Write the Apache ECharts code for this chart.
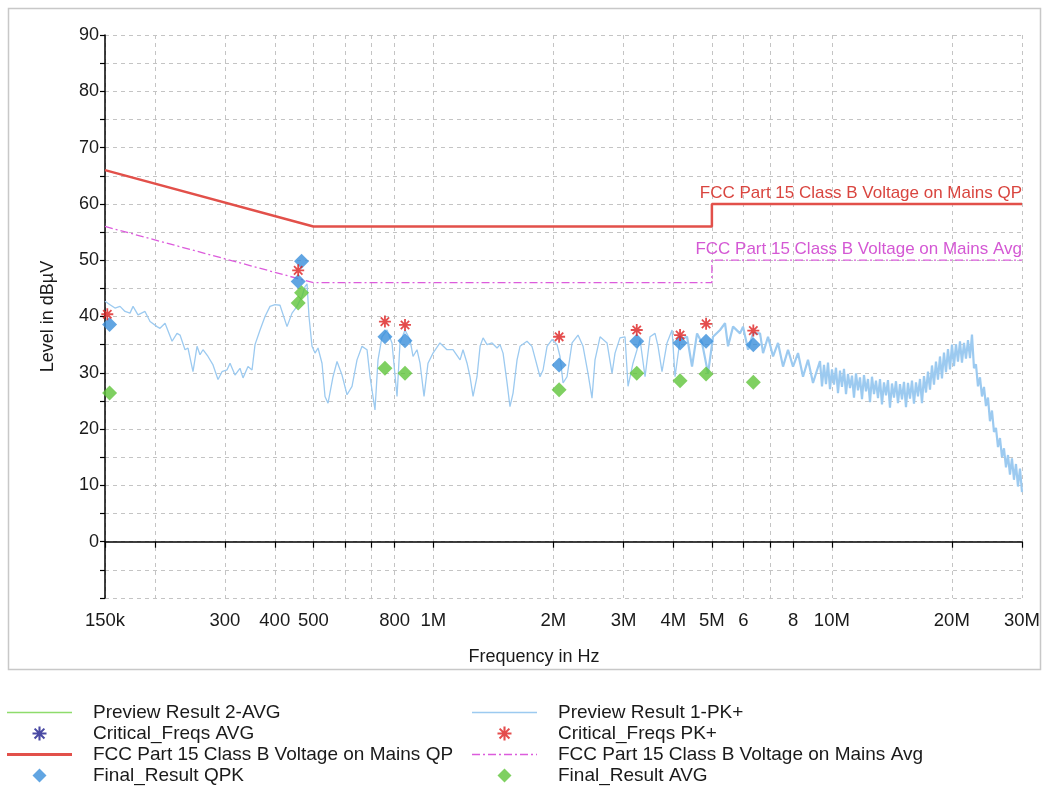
<!DOCTYPE html>
<html><head><meta charset="utf-8">
<script src="https://cdn.jsdelivr.net/npm/echarts@6/dist/echarts.min.js"></script>
<style>html,body{margin:0;padding:0;background:#fff}#c{width:1046px;height:786px}</style>
</head><body><div id="c"></div><script>
// ---- data (frequency in kHz, level in dBµV) ----
const tickFreqsKHz = [150,200,300,400,500,600,700,800,1000,2000,3000,4000,5000,6000,7000,8000,10000,20000,30000];
const labelFreqsKHz = [150,300,400,500,800,1000,2000,3000,4000,5000,6000,8000,10000,20000,30000];
const labelTexts = ['150k','300','400','500','800','1M','2M','3M','4M','5M','6','8','10M','20M','30M'];

const limitQP = [[150,66],[500,56],[5000,56],[5000,60],[30000,60]];
const limitAvg = [[150,56],[500,46],[5000,46],[5000,50],[30000,50]];

// Preview Result 1-PK+, 150 kHz .. 4.16 MHz
const previewPKLow = [
[150,42.7],[154.4,42.1],[158.9,41.5],[163.6,41.8],[168.4,40.9],[173.3,40.6],[176.4,41.8],[181.5,40.3],[189.0,40.9],[194.6,39.1],
[202.6,38.2],[206.1,37.9],[212.2,38.8],[221.0,35.6],[227.4,37.0],[231.4,36.7],[238.2,34.1],[242.3,34.4],[249.4,30.2],[255.3,34.7],
[259.7,33.2],[264.2,34.1],[272.0,32.9],[280.0,31.4],[288.2,28.8],[294.9,30.2],[303.5,30.5],[308.9,31.7],[317.9,29.6],[327.2,30.8],
[333.0,29.1],[342.7,31.1],[350.8,30.5],[356.9,35.0],[367.4,37.6],[378.1,40.0],[389.2,41.8],[400.6,42.1],[412.3,42.0],[429.4,38.2],
[442.0,40.6],[454.9,41.8],[468.3,43.6],[476.4,45.3],[482.0,45.8],[487.5,40.0],[496.1,34.7],[504.8,33.5],[513.6,34.4],[525.6,31.7],
[534.8,25.8],[544.2,24.6],[560.1,29.3],[573.2,32.0],[590.0,29.6],[607.3,26.1],[625.1,27.6],[643.4,32.3],[662.2,34.7],[681.7,34.1],
[693.6,29.3],[713.8,23.4],[726.4,32.3],[743.3,36.4],[765.2,37.6],[787.5,35.3],[810.7,25.8],[824.8,35.3],[848.9,37.6],[873.9,35.9],
[889.2,32.9],[909.9,34.1],[926.0,31.7],[947.6,25.8],[969.6,31.7],[998.1,33.5],[1039,35.3],[1082,34.1],[1120,34.1],[1167,32.3],
[1187,34.1],[1215,31.7],[1236,29.3],[1258,25.8],[1287,29.3],[1310,34.7],[1333,36.2],[1364,35.0],[1404,35.3],[1445,34.4],
[1470,35.0],[1496,33.5],[1531,28.2],[1557,24.0],[1585,26.4],[1622,32.3],[1650,34.7],[1718,35.6],[1768,34.7],[1800,32.6],
[1852,29.3],[1885,30.5],[1929,34.7],[1985,35.9],[2044,35.0],[2079,32.9],[2116,28.2],[2165,29.3],[2229,35.3],[2307,36.7],
[2375,34.7],[2444,29.9],[2501,25.5],[2545,32.3],[2620,36.4],[2728,35.3],[2808,29.9],[2857,33.5],[2940,36.2],[3027,36.4],
[3080,27.6],[3170,31.7],[3301,35.9],[3398,29.3],[3497,36.4],[3600,37.0],[3663,34.7],[3748,30.2],[3858,35.3],[3972,37.6],
[4041,29.3],[4160,35.9]
];
// Preview Result 1-PK+, 4.16 MHz .. 30 MHz (dense, noisy part)
const previewPKHigh = [
[4160,35.9],[4332,36.4],[4458,31.1],[4589,37.0],[4724,35.3],[4890,29.9],[5033,36.4],[5241,37.6],[5394,38.8],
[5489,34.7],[5650,38.2],[5883,37.0],[5986,38.2],[6162,34.1],[6342,37.0],[6604,37.0],[6720,33.5],[6916,36.4],[7119,32.9],
[7327,35.3],[7542,31.1],[7762,34.1],[7990,31.1],[8224,33.5],[8465,29.3],[8712,32.3],[8968,28.2],
[9337,32.1],[9446,27.6],[9555,31.4],[9666,28.0],[9779,31.8],[9892,27.1],[10007,30.6],[10124,27.9],[10241,30.9],[10360,26.4],
[10481,30.4],[10603,27.5],[10726,30.7],[10851,26.2],[10977,29.8],[11105,27.3],[11233,29.5],[11364,25.6],[11496,29.9],[11630,26.9],
[11765,29.2],[11902,25.3],[12040,29.6],[12180,26.7],[12321,28.9],[12465,24.8],[12609,29.3],[12756,26.2],[12904,28.6],[13054,25.5],
[13206,28.9],[13359,24.4],[13514,28.3],[13671,26.0],[13830,28.7],[13991,23.8],[14154,28.1],[14318,25.6],[14485,28.5],[14653,24.6],
[14823,28.0],[14996,25.3],[15170,28.4],[15346,23.9],[15524,28.2],[15705,25.4],[15887,28.6],[16072,24.5],[16259,28.3],[16448,25.8],
[16639,28.9],[16832,24.6],[17028,29.4],[17226,26.5],[17426,30.2],[17629,27.0],[17833,31.3],[18041,27.9],[18250,32.0],[18462,28.8],
[18677,32.9],[18894,29.0],[19114,33.6],[19336,30.1],[19560,34.2],[19788,30.6],[20018,35.0],[20250,31.2],[20486,35.1],[20724,32.0],
[20965,35.6],[21208,31.8],[21455,35.3],[21704,32.5],[21957,35.8],[22212,32.6],[22470,36.8],[22731,30.8],[22995,31.5],[23262,27.6],
[23533,29.2],[23806,25.8],[24083,27.5],[24363,24.1],[24646,25.6],[24932,21.4],[25222,23.3],[25515,19.5],[25812,20.2],[26112,16.8],
[26415,18.4],[26722,15.0],[27033,16.6],[27347,13.2],[27665,15.4],[27986,11.9],[28311,14.8],[28640,11.0],[28973,13.8],[29310,9.8],
[29651,13.0],[30000,8.8]
];

const criticalPK = [[152,40.4],[458,48.2],[756,39.1],[849,38.5],[2068,36.4],[3239,37.6],[4160,36.7],[4835,38.7],[6352,37.5]];
const finalQPK = [[154,38.6],[458,46.2],[467,49.8],[756,36.4],[849,35.7],[2068,31.4],[3239,35.6],[4160,35.3],[4835,35.6],[6352,35.0]];
const finalAVG = [[154,26.4],[458,42.4],[467,44.2],[756,30.8],[849,29.9],[2068,27.0],[3239,29.9],[4160,28.6],[4835,29.8],[6352,28.3]];
const criticalAVG = [];
const previewAVG = [];

const nameQP = 'FCC Part 15 Class B Voltage on Mains QP';
const nameAvg = 'FCC Part 15 Class B Voltage on Mains Avg';
const namePK = 'Preview Result 1-PK+';

// ---- build ----
const toHz = arr => arr.map(p => [p[0] * 1000, p[1]]);
const tickFreqs = tickFreqsKHz.map(v => v * 1000);
const labelFreqs = labelFreqsKHz.map(v => v * 1000);
const ASTERISK = 'path://M8.5,0h3v20h-3z M0,8.5h20v3h-20z M2,4.1l2.1,-2.1l14,14l-2.1,2.1z M15.9,2l2.1,2.1l-14,14l-2.1,-2.1z';
const DIAMOND = 'path://M7,0L14,7L7,14L0,7Z';
const ICON_THIN = 'path://M0,0h65v1.4h-65z';
const ICON_THICK = 'path://M0,0h65v3h-65z';
const ICON_DASHDOT = 'path://M0,0h8v1.5h-8z M11,0h2v1.5h-2z M16,0h8v1.5h-8z M27,0h2v1.5h-2z M32,0h8v1.5h-8z M43,0h2v1.5h-2z M48,0h8v1.5h-8z M59,0h2v1.5h-2z M64,0h1v1.5h-1z';
const FONT = 'Liberation Sans, Arial, sans-serif';
const TRACE = '#9ccaf0';

const chart = echarts.init(document.getElementById('c'), null, {renderer: 'canvas'});
const legendCommon = {
  type: 'plain', orient: 'vertical', top: 703, padding: 0, itemWidth: 65, itemHeight: 14, itemGap: 2,
  selectedMode: false,
  textStyle: {fontSize: 19, color: '#1a1a1a', padding: [0, 0, 0, 16], fontFamily: FONT}
};
chart.setOption({
  animation: false,
  textStyle: {fontFamily: FONT},
  graphic: [{type: 'rect', silent: true, shape: {x: 8.5, y: 8.5, width: 1032, height: 661}, style: {fill: 'none', stroke: '#c8c8c8', lineWidth: 1.5}}],
  grid: {left: 105, right: 24, top: 35, bottom: 188},
  legend: [
    Object.assign({left: 7, data: [
      {name: 'Preview Result 2-AVG', icon: ICON_THIN}, {name: 'Critical_Freqs AVG'},
      {name: nameQP, icon: ICON_THICK}, {name: 'Final_Result QPK'}]}, legendCommon),
    Object.assign({left: 472, data: [
      {name: namePK, icon: ICON_THIN}, {name: 'Critical_Freqs PK+'},
      {name: nameAvg, icon: ICON_DASHDOT}, {name: 'Final_Result AVG'}]}, legendCommon)
  ],
  xAxis: {
    type: 'log', logBase: 10, min: 150000, max: 30000000,
    axisLine: {lineStyle: {color: '#000', width: 1.5}},
    axisTick: {show: true, customValues: tickFreqs, length: 6, lineStyle: {color: '#000', width: 1.2}},
    axisLabel: {customValues: labelFreqs, fontSize: 18.5, color: '#1a1a1a', margin: 13,
      formatter: v => { const i = labelFreqs.findIndex(f => Math.abs(f - v) / f < 1e-6); return i >= 0 ? labelTexts[i] : ''; }},
    splitLine: {show: true, lineStyle: {type: [4, 4], color: '#c4c4c4', width: 1}},
    minorTick: {show: false}, minorSplitLine: {show: false},
    name: 'Frequency in Hz', nameLocation: 'middle', nameGap: 50,
    nameTextStyle: {fontSize: 18, color: '#1a1a1a', padding: [0, 59, 0, 0]}
  },
  yAxis: {
    type: 'value', min: -10, max: 90, interval: 5,
    axisLine: {show: true, lineStyle: {color: '#000', width: 1.5}},
    axisTick: {show: true, length: 5, lineStyle: {color: '#000', width: 1.2}},
    axisLabel: {fontSize: 18, color: '#1a1a1a', margin: 6, formatter: v => (v % 10 === 0 && v > -10) ? String(v) : ''},
    splitLine: {show: true, lineStyle: {type: [4, 4], color: '#c4c4c4', width: 1}},
    name: 'Level in dBµV', nameLocation: 'middle', nameGap: 48,
    nameTextStyle: {fontSize: 18, color: '#1a1a1a'}
  },
  series: [
    {name: 'Preview Result 2-AVG', type: 'line', data: toHz(previewAVG), symbol: 'none', color: '#8edc6c', lineStyle: {width: 1.2, color: '#8edc6c'}},
    {name: namePK, type: 'line', data: toHz(previewPKLow), symbol: 'none', sampling: null, color: TRACE, lineStyle: {width: 1.3, color: TRACE}, z: 2},
    {name: namePK, type: 'line', data: toHz(previewPKHigh), symbol: 'none', sampling: null, color: TRACE, lineStyle: {width: 2.2, color: TRACE}, z: 2},
    {name: 'Critical_Freqs AVG', type: 'scatter', data: toHz(criticalAVG), symbol: ASTERISK, symbolSize: 12, color: '#1c1c8c'},
    {name: nameQP, type: 'line', data: toHz(limitQP), symbol: 'none', color: '#e2504a', lineStyle: {width: 2.5, color: '#e2504a'}, z: 3,
      markPoint: {silent: true, symbol: 'circle', symbolSize: 1, itemStyle: {color: 'rgba(0,0,0,0)'},
        data: [{coord: [30000000, 60], label: {show: true, position: 'top', align: 'right', distance: 2, formatter: nameQP, color: '#d9453f', fontSize: 17}}]}},
    {name: nameAvg, type: 'line', data: toHz(limitAvg), symbol: 'none', color: '#dc5cdc', lineStyle: {width: 1.3, color: '#dc5cdc', type: [8, 3, 2, 3]}, z: 3,
      markPoint: {silent: true, symbol: 'circle', symbolSize: 1, itemStyle: {color: 'rgba(0,0,0,0)'},
        data: [{coord: [30000000, 50], label: {show: true, position: 'top', align: 'right', distance: 2, formatter: nameAvg, color: '#d458d4', fontSize: 17}}]}},
    {name: 'Critical_Freqs PK+', type: 'scatter', data: toHz(criticalPK), symbol: ASTERISK, symbolSize: 12, color: '#dd2020', z: 5},
    {name: 'Final_Result QPK', type: 'scatter', data: toHz(finalQPK), symbol: DIAMOND, symbolSize: 15, color: '#3a8edb', z: 4},
    {name: 'Final_Result AVG', type: 'scatter', data: toHz(finalAVG), symbol: DIAMOND, symbolSize: 15, color: '#5fc43a', z: 4}
  ]
});
</script></body></html>
